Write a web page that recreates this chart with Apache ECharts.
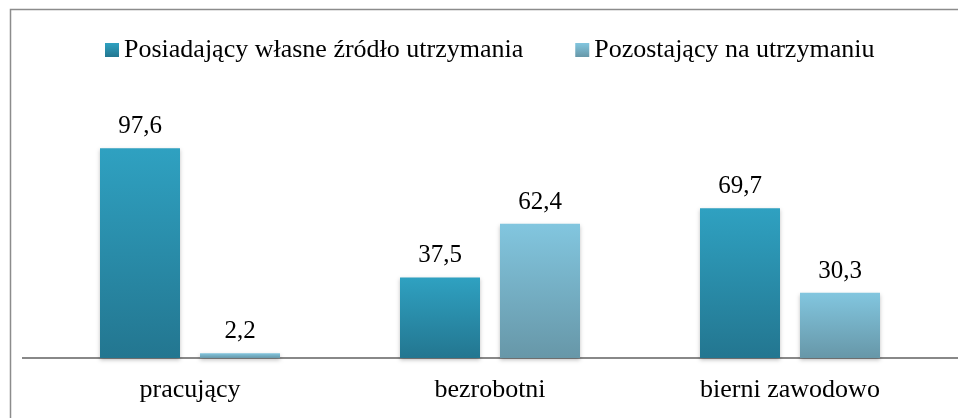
<!DOCTYPE html>
<html lang="pl">
<head>
  <meta charset="UTF-8">
  <title>Źródło utrzymania</title>
  <script src="https://cdn.jsdelivr.net/npm/echarts/dist/echarts.min.js"></script>
  <style>
    body { margin: 0; background: #fff; }
    #chart { width: 958px; height: 418px; }
  </style>
</head>
<body>
<div id="chart"></div>
<script>
  const categories = ['pracujący', 'bezrobotni', 'bierni zawodowo'];
  const seriesNames = ['Posiadający własne źródło utrzymania', 'Pozostający na utrzymaniu'];
  const ownIncome = [97.6, 37.5, 69.7];
  const dependent = [2.2, 62.4, 30.3];

  const font = '"Liberation Serif", "Times New Roman", serif';

  function grad(top, bottom) {
    return new echarts.graphic.LinearGradient(0, 0, 0, 1, [
      { offset: 0, color: top },
      { offset: 1, color: bottom }
    ]);
  }

  function valueLabel() {
    return {
      show: true,
      position: 'top',
      distance: 9,
      fontFamily: font,
      fontSize: 25,
      color: '#000',
      formatter: p => String(p.value).replace('.', ',')
    };
  }

  const chart = echarts.init(document.getElementById('chart'));
  chart.setOption({
    animation: false,
    textStyle: { fontFamily: font },
    legend: {
      top: 32,
      left: 100,
      itemWidth: 14,
      itemHeight: 14,
      itemGap: 52,
      icon: 'rect',
      textStyle: { fontFamily: font, fontSize: 26, color: '#000' },
      data: seriesNames
    },
    grid: { left: 40, right: 18, top: 143, bottom: 60 },
    xAxis: {
      type: 'category',
      data: categories,
      axisLine: { lineStyle: { color: '#888', width: 2 } },
      axisTick: { show: false },
      axisLabel: { fontFamily: font, fontSize: 26, color: '#000', margin: 19 }
    },
    yAxis: {
      type: 'value',
      min: 0,
      max: 100,
      show: false
    },
    graphic: [
      {
        type: 'rect',
        silent: true,
        shape: { x: 10.5, y: 9.5, width: 1000, height: 1000 },
        style: { fill: 'none', stroke: '#8c8c8c', lineWidth: 1.5 }
      },
      {
        type: 'line',
        silent: true,
        shape: { x1: 22, y1: 358, x2: 958, y2: 358 },
        style: { stroke: '#888', lineWidth: 2 }
      }
    ],
    series: [
      {
        name: seriesNames[0],
        type: 'bar',
        data: ownIncome,
        barWidth: 80,
        barGap: '25%',
        itemStyle: {
          color: grad('#2fa1c1', '#237690'),
          shadowColor: 'rgba(0,0,0,0.25)',
          shadowBlur: 4,
          shadowOffsetY: 2
        },
        label: valueLabel()
      },
      {
        name: seriesNames[1],
        type: 'bar',
        data: dependent,
        barWidth: 80,
        itemStyle: {
          color: grad('#82c6df', '#6797a8'),
          shadowColor: 'rgba(0,0,0,0.25)',
          shadowBlur: 4,
          shadowOffsetY: 2
        },
        label: valueLabel()
      }
    ]
  });
</script>
</body>
</html>
